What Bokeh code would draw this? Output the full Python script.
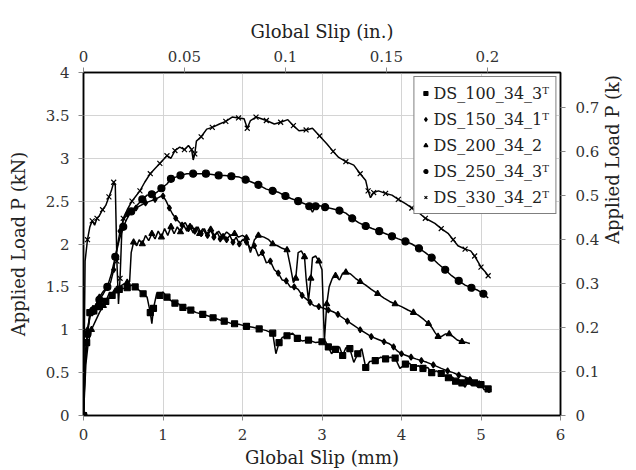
import math
from bokeh.plotting import figure
from bokeh.models import Range1d, LinearAxis, FixedTicker, CustomJSTickFormatter, Legend, LegendItem
from bokeh.embed import file_html
from bokeh.resources import INLINE

# ---- data (Global slip mm, Applied load kN) ----
ds100 = [(0,0),(0.02,0.55),(0.04,0.85),(0.06,1.05),(0.08,1.2),(0.1,1.25),(0.13,1.22),(0.16,1.3),(0.2,1.27),
         (0.24,1.35),(0.28,1.33),(0.32,1.42),(0.36,1.4),(0.4,1.46),(0.45,1.47),(0.5,1.48),(0.55,1.49),(0.6,1.52),
         (0.65,1.5),(0.7,1.46),(0.75,1.42),(0.8,1.38),(0.84,1.2),(0.86,1.07),(0.88,1.25),(0.92,1.42),(0.96,1.4),
         (1.0,1.44),(1.05,1.38),(1.1,1.34),(1.15,1.31),(1.2,1.3),(1.25,1.26),(1.3,1.25),(1.35,1.23),(1.42,1.2),
         (1.5,1.18),(1.57,1.16),(1.63,1.14),(1.7,1.12),(1.77,1.1),(1.84,1.08),(1.9,1.07),(1.97,1.06),(2.05,1.04),
         (2.13,1.03),(2.21,1.01),(2.3,0.99),(2.38,0.96),(2.42,0.72),(2.46,0.85),(2.5,0.91),(2.56,0.93),(2.63,0.96),
         (2.69,0.9),(2.75,0.87),(2.83,0.88),(2.92,0.85),(3.0,0.86),(3.04,0.87),(3.08,0.8),(3.12,0.72),(3.17,0.77),
         (3.22,0.8),(3.26,0.7),(3.3,0.79),(3.35,0.78),(3.4,0.62),(3.45,0.72),(3.5,0.78),(3.55,0.56),(3.6,0.63),
         (3.67,0.64),(3.74,0.68),(3.8,0.66),(3.86,0.68),(3.92,0.67),(3.98,0.55),(4.05,0.6),(4.1,0.61),(4.15,0.56),
         (4.21,0.58),(4.27,0.55),(4.33,0.56),(4.38,0.5),(4.44,0.52),(4.5,0.49),(4.55,0.46),(4.59,0.44),(4.64,0.45),
         (4.68,0.4),(4.72,0.42),(4.76,0.38),(4.8,0.33),(4.84,0.4),(4.88,0.35),(4.92,0.38),(4.96,0.33),(5.0,0.36),
         (5.04,0.3),(5.09,0.31)]

ds150 = [(0,0),(0.02,0.7),(0.05,1.0),(0.08,1.15),(0.12,1.25),(0.16,1.3),(0.2,1.38),(0.25,1.45),(0.3,1.5),
         (0.34,1.55),(0.38,1.7),(0.42,1.95),(0.46,2.15),(0.5,2.28),(0.55,2.35),(0.6,2.4),(0.66,2.42),(0.72,2.45),
         (0.78,2.48),(0.84,2.5),(0.9,2.52),(0.96,2.55),(1.0,2.56),(1.04,2.5),(1.08,2.42),(1.12,2.35),(1.16,2.3),
         (1.2,2.26),(1.24,2.22),(1.28,2.25),(1.32,2.18),(1.36,2.22),(1.4,2.15),(1.44,2.2),(1.48,2.12),(1.52,2.18),
         (1.56,2.1),(1.6,2.16),(1.64,2.08),(1.68,2.14),(1.72,2.06),(1.76,2.12),(1.8,2.05),(1.84,2.1),(1.88,2.02),
         (1.92,2.08),(1.96,2.0),(2.0,2.05),(2.05,2.02),(2.1,1.95),(2.15,1.98),(2.2,1.86),(2.25,1.9),(2.3,1.78),
         (2.35,1.8),(2.4,1.7),(2.45,1.66),(2.5,1.58),(2.55,1.57),(2.6,1.5),(2.65,1.5),(2.7,1.47),(2.75,1.4),
         (2.8,1.36),(2.85,1.32),(2.9,1.28),(2.96,1.27),(3.02,1.25),(3.08,1.23),(3.14,1.21),(3.2,1.18),(3.26,1.14),
         (3.32,1.1),(3.4,1.05),(3.48,1.0),(3.55,0.96),(3.62,0.92),(3.7,0.89),(3.78,0.86),(3.84,0.84),(3.9,0.8),
         (3.95,0.75),(4.0,0.72),(4.06,0.7),(4.12,0.68),(4.18,0.66),(4.25,0.64),(4.32,0.62),(4.4,0.59),(4.5,0.55),
         (4.58,0.52),(4.65,0.5),(4.72,0.47),(4.8,0.45),(4.86,0.42),(4.92,0.4),(4.98,0.37),(5.05,0.34),(5.1,0.3)]

ds200 = [(0,0),(0.03,0.6),(0.06,0.85),(0.1,1.0),(0.15,1.1),(0.2,1.2),(0.25,1.28),(0.3,1.35),(0.35,1.4),
         (0.4,1.45),(0.45,1.5),(0.5,1.53),(0.55,1.55),(0.58,1.56),(0.6,1.9),(0.63,2.02),(0.67,1.98),(0.7,2.05),
         (0.74,2.0),(0.78,2.1),(0.82,2.04),(0.86,2.12),(0.9,2.06),(0.94,2.15),(0.98,2.08),(1.02,2.18),(1.06,2.1),
         (1.1,2.2),(1.14,2.12),(1.18,2.2),(1.22,2.14),(1.26,2.22),(1.3,2.15),(1.34,2.2),(1.38,2.13),(1.42,2.2),
         (1.46,2.12),(1.5,2.18),(1.55,2.1),(1.6,2.17),(1.65,2.1),(1.7,2.15),(1.75,2.08),(1.8,2.14),(1.85,2.1),
         (1.9,2.12),(1.95,2.08),(2.0,2.1),(2.05,2.07),(2.1,1.9),(2.15,2.05),(2.2,2.1),(2.27,2.08),(2.33,2.05),
         (2.38,2.0),(2.44,1.98),(2.5,1.95),(2.56,1.93),(2.6,1.75),(2.64,1.55),(2.67,1.6),(2.7,1.9),(2.74,1.92),
         (2.78,1.85),(2.8,1.6),(2.83,1.34),(2.86,1.6),(2.88,1.84),(2.92,1.86),(2.96,1.8),(3.0,1.7),(3.03,0.87),
         (3.06,1.3),(3.09,1.5),(3.13,1.6),(3.17,1.63),(3.22,1.58),(3.26,1.66),(3.3,1.67),(3.36,1.65),(3.42,1.6),
         (3.48,1.56),(3.55,1.52),(3.62,1.47),(3.7,1.42),(3.78,1.37),(3.85,1.33),(3.92,1.3),(4.0,1.27),(4.08,1.23),
         (4.15,1.2),(4.21,1.17),(4.28,1.12),(4.34,1.07),(4.38,1.03),(4.42,0.97),(4.46,0.92),(4.5,0.92),(4.55,0.95),
         (4.6,0.95),(4.65,0.92),(4.7,0.88),(4.76,0.86),(4.82,0.85),(4.86,0.84)]

ds250 = [(0,0),(0.02,0.6),(0.05,0.95),(0.08,1.15),(0.12,1.22),(0.16,1.3),(0.2,1.35),(0.25,1.42),(0.3,1.5),
         (0.35,1.65),(0.4,1.85),(0.45,2.05),(0.5,2.2),(0.55,2.3),(0.6,2.38),(0.67,2.45),(0.74,2.52),(0.8,2.57),
         (0.86,2.58),(0.92,2.6),(0.98,2.65),(1.05,2.7),(1.1,2.76),(1.16,2.78),(1.22,2.8),(1.3,2.82),(1.38,2.82),
         (1.46,2.82),(1.54,2.82),(1.62,2.81),(1.7,2.8),(1.78,2.8),(1.86,2.79),(1.96,2.78),(2.04,2.75),(2.12,2.72),
         (2.2,2.69),(2.3,2.64),(2.38,2.62),(2.46,2.6),(2.54,2.56),(2.61,2.53),(2.7,2.5),(2.78,2.47),(2.84,2.44),
         (2.88,2.37),(2.92,2.44),(2.96,2.45),(3.04,2.43),(3.13,2.41),(3.22,2.39),(3.3,2.36),(3.38,2.3),(3.46,2.25),
         (3.55,2.21),(3.63,2.18),(3.72,2.15),(3.8,2.12),(3.88,2.09),(3.96,2.06),(4.05,2.03),(4.13,2.0),(4.22,1.95),
         (4.3,1.9),(4.38,1.84),(4.46,1.77),(4.55,1.7),(4.63,1.63),(4.72,1.57),(4.8,1.52),(4.88,1.49),(4.96,1.46),
         (5.03,1.42),(5.09,1.37)]

ds330 = [(0,0),(0.02,1.8),(0.05,2.05),(0.08,2.2),(0.11,2.27),(0.14,2.22),(0.17,2.3),(0.2,2.33),(0.24,2.4),
         (0.28,2.45),(0.32,2.55),(0.35,2.62),(0.38,2.72),(0.4,2.68),(0.42,1.8),(0.44,1.3),(0.46,1.6),(0.48,2.1),
         (0.5,2.3),(0.55,2.4),(0.61,2.5),(0.66,2.56),(0.71,2.62),(0.77,2.72),(0.84,2.82),(0.9,2.88),(0.96,2.94),
         (1.0,2.98),(1.05,3.03),(1.1,3.0),(1.15,3.09),(1.21,3.13),(1.27,3.1),(1.32,3.15),(1.36,3.1),(1.38,2.98),
         (1.4,3.05),(1.42,3.2),(1.48,3.25),(1.55,3.34),(1.62,3.36),(1.71,3.4),(1.79,3.43),(1.87,3.48),(1.95,3.47),
         (2.02,3.46),(2.06,3.35),(2.1,3.44),(2.17,3.48),(2.21,3.47),(2.3,3.44),(2.4,3.4),(2.48,3.42),(2.57,3.45),
         (2.64,3.38),(2.71,3.32),(2.8,3.33),(2.88,3.35),(2.97,3.26),(3.06,3.17),(3.14,3.08),(3.21,3.01),(3.3,2.96),
         (3.4,2.92),(3.48,2.82),(3.55,2.74),(3.58,2.62),(3.61,2.54),(3.65,2.6),(3.71,2.62),(3.8,2.59),(3.88,2.57),
         (3.96,2.52),(4.05,2.47),(4.13,2.42),(4.21,2.37),(4.3,2.3),(4.42,2.24),(4.5,2.18),(4.59,2.12),(4.65,2.05),
         (4.71,1.98),(4.8,1.94),(4.87,1.92),(4.92,1.86),(4.97,1.78),(5.0,1.73),(5.05,1.68),(5.09,1.63)]

labels = ["DS_100_34_3\u1d40", "DS_150_34_1\u1d40", "DS_200_34_2", "DS_250_34_3\u1d40", "DS_330_34_2\u1d40"]
x_ticks_mm = [0, 1, 2, 3, 4, 5, 6]
y_ticks_kn = [0, 0.5, 1, 1.5, 2, 2.5, 3, 3.5, 4]
x_ticks_in = [0, 0.05, 0.1, 0.15, 0.2]
y_ticks_k = [0, 0.1, 0.2, 0.3, 0.4, 0.5, 0.6, 0.7]

FONT = "DejaVu Serif"
fmt = CustomJSTickFormatter(code="return String(Math.round(tick*1000)/1000);")

p = figure(width=636, height=470, x_range=Range1d(0, 6), y_range=Range1d(0, 4),
           output_backend="svg", toolbar_location=None,
           min_border_left=83, min_border_right=73, min_border_top=72, min_border_bottom=55)
bottom = p.below[0]
left = p.left[0]
p.extra_x_ranges = {"in": Range1d(0, 6 / 25.4)}
p.extra_y_ranges = {"k": Range1d(0, 0.78)}

top = LinearAxis(x_range_name="in", ticker=FixedTicker(ticks=x_ticks_in), axis_label="Global Slip (in.)")
right = LinearAxis(y_range_name="k", ticker=FixedTicker(ticks=y_ticks_k), axis_label="Applied Load P (k)")
p.add_layout(top, "above")
p.add_layout(right, "right")

bottom.ticker = FixedTicker(ticks=x_ticks_mm)
left.ticker = FixedTicker(ticks=y_ticks_kn)
bottom.axis_label = "Global Slip (mm)"
left.axis_label = "Applied Load P (kN)"

for ax in [bottom, left, top, right]:
    ax.formatter = fmt
    ax.axis_line_color = "black"
    ax.axis_line_width = 1.5
    ax.major_tick_line_color = "#888888"
    ax.major_tick_out = 5
    ax.major_tick_in = 0
    ax.minor_tick_line_color = None
    ax.major_label_text_font = FONT
    ax.major_label_text_font_size = "15px"
    ax.major_label_text_color = "#333333"
    ax.axis_label_text_font = FONT
    ax.axis_label_text_font_size = "18px"
    ax.axis_label_text_font_style = "normal"
    ax.axis_label_text_color = "#222222"
    ax.major_label_standoff = 6
    ax.axis_label_standoff = 4

right.axis_label_orientation = math.pi / 2
bottom.major_label_standoff = 8
left.major_label_standoff = 9
right.major_label_standoff = 10
left.axis_label_standoff = 14
right.axis_label_standoff = 10
top.axis_label_standoff = 6

p.xgrid.ticker = FixedTicker(ticks=x_ticks_mm)
p.ygrid.ticker = FixedTicker(ticks=y_ticks_kn)
p.xgrid.grid_line_color = "#d4d4d4"
p.ygrid.grid_line_color = "#d4d4d4"
p.outline_line_color = "black"
p.outline_line_width = 1.5
p.background_fill_color = "white"

series = [ds100, ds150, ds200, ds250, ds330]
markers = ["square", "diamond", "triangle", "circle", "x"]
sizes = [6, 6, 6, 7, 7]
steps = [2, 2, 3, 2, 2]
items = []
for data, mk, sz, st, lab in zip(series, markers, sizes, steps, labels):
    xs = [d[0] for d in data]
    ys = [d[1] for d in data]
    p.line(xs, ys, line_color="black", line_width=1.5)
    r = p.scatter(xs[::st], ys[::st], marker=mk, size=sz, fill_color="black", line_color="black", line_width=1.2)
    items.append(LegendItem(label=lab, renderers=[r]))

legend = Legend(items=items, location="top_right", border_line_color="black", border_line_width=1.5,
                label_text_font=FONT, label_text_font_size="16px", label_text_color="#222222",
                glyph_width=10, glyph_height=20, label_height=20, spacing=6, padding=6, margin=4,
                label_standoff=3, background_fill_color="white", background_fill_alpha=1)
p.add_layout(legend)

open("out.html", "w").write(file_html(p, INLINE))
